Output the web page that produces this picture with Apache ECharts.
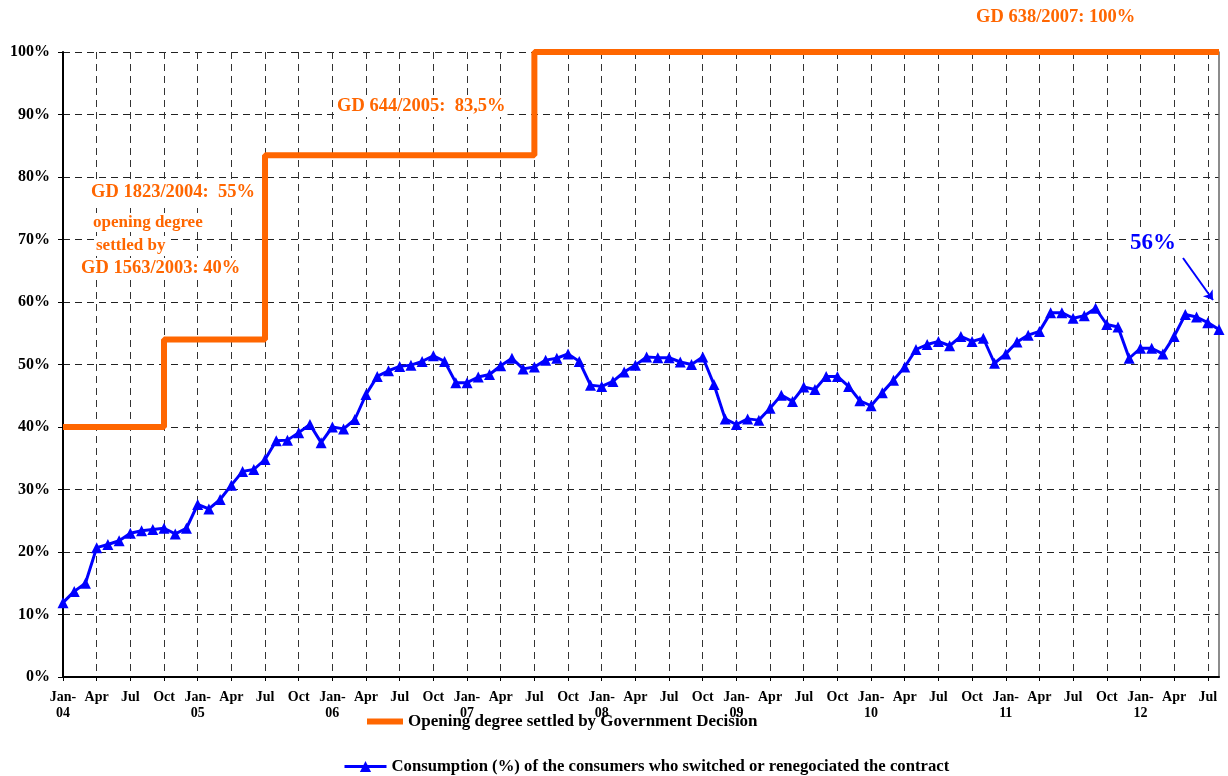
<!DOCTYPE html>
<html>
<head>
<meta charset="utf-8">
<script src="https://cdn.jsdelivr.net/npm/echarts@6/dist/echarts.min.js"></script>
<style>
  html, body { margin: 0; padding: 0; background: #fff; }
  #chart { width: 1228px; height: 776px; }
</style>
</head>
<body>
<div id="chart"></div>
<script>
const monthNames = ["Jan", "Feb", "Mar", "Apr", "May", "Jun", "Jul", "Aug", "Sep", "Oct", "Nov", "Dec"];
const years = ["04", "05", "06", "07", "08", "09", "10", "11", "12"];
const lastMonthOf2012 = 8; // data runs through Aug-12

// consumption (%) of the consumers who switched or renegociated the contract
const consumption = [
  11.9, 13.7, 15.0, 20.7, 21.2, 21.8, 23.0, 23.4, 23.6, 23.8, 22.9, 23.8,
  27.6, 26.9, 28.4, 30.7, 32.9, 33.2, 34.8, 37.8, 37.9, 39.1, 40.4, 37.5,
  40.0, 39.7, 41.2, 45.2, 48.1, 49.0, 49.7, 49.9, 50.5, 51.4, 50.5, 47.1,
  47.1, 48.0, 48.4, 49.8, 51.0, 49.3, 49.6, 50.7, 51.0, 51.7, 50.5, 46.7,
  46.5, 47.3, 48.8, 49.9, 51.2, 51.1, 51.1, 50.4, 50.0, 51.2, 46.8, 41.3,
  40.4, 41.3, 41.1, 43.0, 45.1, 44.1, 46.4, 46.0, 48.1, 48.1, 46.5, 44.2,
  43.4, 45.5, 47.5, 49.6, 52.4, 53.2, 53.7, 53.0, 54.5, 53.7, 54.2, 50.2,
  51.7, 53.6, 54.7, 55.3, 58.3, 58.3, 57.4, 57.8, 59.0, 56.4, 56.0, 51.0,
  52.6, 52.6, 51.7, 54.5, 58.0, 57.6, 56.7, 55.6
];

// opening degree settled by government decision (step changes)
const openingMonths = ["Jan-04", "Oct-04", "Jul-05", "Jul-07", "Aug-12"];
const openingLevels = [40, 54, 83.5, 100, 100];

const yTicks = [0, 10, 20, 30, 40, 50, 60, 70, 80, 90, 100];

let categories = [];
years.forEach((y, yi) => {
  let n = yi === years.length - 1 ? lastMonthOf2012 : 12;
  for (let m = 0; m < n; m++) {
    categories.push(monthNames[m] + "-" + y);
  }
});

const serif = "'Liberation Serif', 'Times New Roman', serif";
const orange = "#FF6600";
const blue = "#0000FF";
const openingName = "Opening degree settled by Government Decision";
const consumptionName = "Consumption (%) of the consumers who switched or renegociated the contract";

// note text with a white box so the grid does not run through it
function note(text, left, top, size, color) {
  return {
    type: "text",
    left: left,
    top: top,
    z: 100,
    style: {
      text: text,
      fill: color,
      font: "bold " + size + "px " + serif,
      backgroundColor: "#fff",
      padding: [1, 2],
    },
  };
}

const chart = echarts.init(document.getElementById("chart"));

chart.setOption({
  animation: false,
  grid: {
    left: 63,
    right: 9,
    top: 52,
    bottom: 99,
  },
  legend: [
    {
      data: [{ name: openingName, icon: "rect" }],
      left: 362,
      top: 708,
      itemWidth: 36,
      itemHeight: 6,
      itemGap: 5,
      textStyle: { fontFamily: serif, fontWeight: "bold", fontSize: 17, color: "#000" },
    },
    {
      data: [consumptionName],
      left: 338,
      top: 753,
      itemWidth: 42,
      itemHeight: 14,
      itemGap: 3,
      lineStyle: { width: 3 },
      textStyle: { fontFamily: serif, fontWeight: "bold", fontSize: 16.7, color: "#000" },
    },
  ],
  xAxis: {
    type: "category",
    data: categories,
    boundaryGap: false,
    axisLine: { lineStyle: { color: "#000", width: 2 } },
    axisTick: { interval: 2, length: 4, lineStyle: { color: "#000" } },
    axisLabel: {
      interval: 2,
      margin: 12,
      fontFamily: serif,
      fontWeight: "bold",
      fontSize: 14,
      lineHeight: 16,
      color: "#000",
      formatter: function (v) {
        let parts = v.split("-");
        return parts[0] === "Jan" ? "Jan-\n" + parts[1] : parts[0];
      },
    },
    splitLine: {
      show: true,
      interval: 2,
      lineStyle: { color: "#333", type: [7, 5], width: 1 },
    },
  },
  yAxis: [
    {
      type: "value",
      min: yTicks[0],
      max: yTicks[yTicks.length - 1],
      interval: 10,
      axisLine: { show: true, lineStyle: { color: "#000", width: 2 } },
      axisTick: { show: true, length: 5, lineStyle: { color: "#000" } },
      axisLabel: {
        formatter: "{value}%",
        margin: 13,
        fontFamily: serif,
        fontWeight: "bold",
        fontSize: 16,
        color: "#000",
      },
      splitLine: { lineStyle: { color: "#222", type: [7, 5], width: 1 } },
    },
    {
      type: "value",
      position: "right",
      min: 0,
      max: 100,
      interval: 10,
      axisLine: { show: true, lineStyle: { color: "#666", width: 1.5 } },
      axisTick: { show: false },
      axisLabel: { show: false },
      splitLine: { show: false },
    },
  ],
  series: [
    {
      name: openingName,
      type: "line",
      step: "end",
      data: openingMonths.map((m, i) => [m, openingLevels[i]]),
      symbol: "none",
      lineStyle: { color: orange, width: 6, cap: "butt" },
      itemStyle: { color: orange },
      z: 2,
    },
    {
      name: consumptionName,
      type: "line",
      data: consumption,
      symbol: "triangle",
      symbolSize: 11,
      showAllSymbol: true,
      lineStyle: { color: blue, width: 3 },
      itemStyle: { color: blue },
      z: 3,
      markLine: {
        silent: true,
        symbol: ["none", "arrow"],
        symbolSize: 9,
        label: { show: false },
        lineStyle: { color: blue, width: 2, type: "solid" },
        data: [[{ x: 1183, y: 258 }, { x: 1213, y: 300 }]],
      },
    },
  ],
  graphic: [
    note("GD 638/2007: 100%", 974, 7, 18.5, orange),
    note("GD 644/2005:  83,5%", 335, 96, 18.5, orange),
    note("GD 1823/2004:  55%", 89, 182, 18.5, orange),
    note("opening degree", 91, 213, 17, orange),
    note("settled by", 94, 236, 17, orange),
    note("GD 1563/2003: 40%", 79, 258, 18.5, orange),
    note("56%", 1128, 231, 23, blue),
  ],
});
</script>
</body>
</html>
